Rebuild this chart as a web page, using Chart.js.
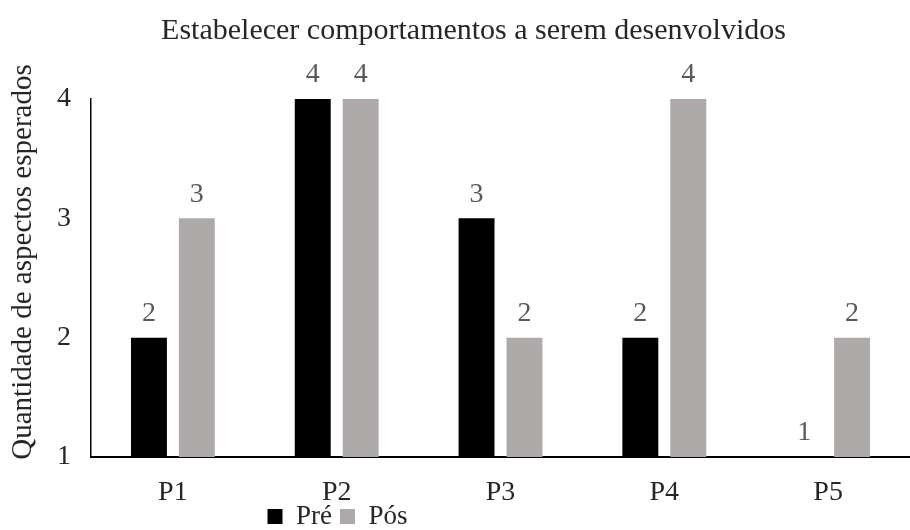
<!DOCTYPE html>
<html>
<head>
<meta charset="utf-8">
<script src="https://cdn.jsdelivr.net/npm/chart.js@4.4.1/dist/chart.umd.min.js"></script>
<style>
  html, body { margin: 0; padding: 0; background: #fff; }
  #wrap { width: 910px; height: 530px; }
</style>
</head>
<body>
<div id="wrap"><canvas id="barChart"></canvas></div>
<script>
// data
var categories = ["P1", "P2", "P3", "P4", "P5"];
var preValues = [2, 4, 3, 2, 1];
var posValues = [3, 4, 2, 4, 2];
var yTicks = [1, 2, 3, 4];
var yTitle = 'Quantidade de aspectos esperados';

var serif = "'Liberation Serif', 'Times New Roman', serif";

// value labels above each bar, plus the vertical axis title
var barLabels = {
  id: 'barLabels',
  afterDatasetsDraw: function (chart) {
    var ctx = chart.ctx;
    ctx.save();
    ctx.font = "28px " + serif;
    ctx.fillStyle = '#595959';
    ctx.textAlign = 'center';
    ctx.textBaseline = 'bottom';
    chart.data.datasets.forEach(function (ds, i) {
      chart.getDatasetMeta(i).data.forEach(function (bar, j) {
        ctx.fillText(ds.data[j], bar.x, bar.y - 10);
      });
    });
    ctx.restore();

    ctx.save();
    ctx.font = "29px " + serif;
    ctx.fillStyle = '#262626';
    ctx.textAlign = 'center';
    ctx.textBaseline = 'middle';
    ctx.translate(23, 262);
    ctx.rotate(-Math.PI / 2);
    ctx.fillText(yTitle, 0, 0);
    ctx.restore();
  }
};

// legend pinned to the bottom strip, left of the centre line
var legendShift = {
  id: 'legendShift',
  afterLayout: function (chart) {
    var lg = chart.legend;
    lg.left -= 136;
    lg.right -= 136;
    lg.top = 495;
    lg.bottom = 530;
  }
};

var ctb = document.getElementById('barChart').getContext('2d');
var chart = new Chart(ctb, {
    type: 'bar',
    data: {
        labels: categories,
        datasets: [{
            label: 'Pré',
            backgroundColor: '#000000',
            data: preValues,
            base: 1
        }, {
            label: 'Pós',
            backgroundColor: '#AEAAAA',
            data: posValues,
            base: 1
        }]
    },
    options: {
      responsive: true,
      maintainAspectRatio: false,
      animation: false,
      categoryPercentage: 0.585,
      barPercentage: 0.75,
      layout: { padding: { left: 37, right: 0, top: 13, bottom: 0 } },
      plugins: {
        title: {
          display: true,
          text: 'Estabelecer comportamentos a serem desenvolvidos',
          color: '#262626',
          font: { family: serif, size: 30, weight: 'normal' },
          padding: { top: 0, bottom: 50 }
        },
        legend: {
          position: 'bottom',
          maxHeight: 1,
          labels: {
            color: '#262626',
            font: { family: serif, size: 27, lineHeight: 1 },
            boxWidth: 15,
            boxHeight: 15,
            padding: 8
          }
        },
        tooltip: { enabled: false }
      },
      scales: {
        x: {
          grid: { display: false, drawTicks: false },
          border: { color: '#000', width: 2 },
          ticks: { color: '#262626', font: { family: serif, size: 28, lineHeight: 1 }, padding: 22 }
        },
        y: {
          min: 1,
          max: 4,
          afterBuildTicks: function (axis) {
            axis.ticks = yTicks.map(function (v) { return { value: v }; });
          },
          grid: { display: false, drawTicks: false },
          border: { color: '#000', width: 1.5 },
          ticks: { color: '#262626', font: { family: serif, size: 28 }, padding: 20 }
        }
      }
    },
    plugins: [barLabels, legendShift]
});
</script>
</body>
</html>
